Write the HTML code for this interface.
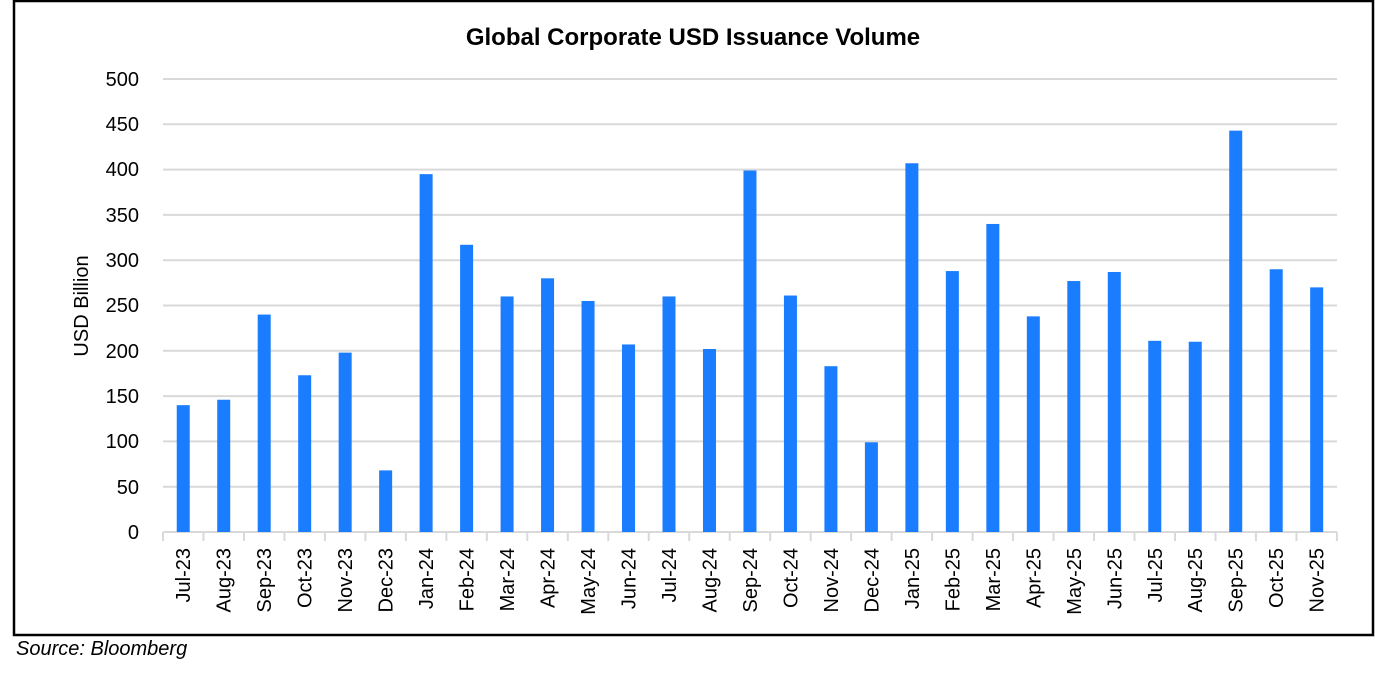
<!DOCTYPE html>
<html><head><meta charset="utf-8"><style>
html,body{margin:0;padding:0;background:#fff;}
svg{display:block;font-family:"Liberation Sans",sans-serif;}
</style></head><body>
<svg width="1375" height="676" viewBox="0 0 1375 676" xmlns="http://www.w3.org/2000/svg">
<rect x="14" y="1" width="1359" height="634" fill="#fff" stroke="#000" stroke-width="2.5"/>
<text x="693" y="45" text-anchor="middle" font-size="24" font-weight="bold">Global Corporate USD Issuance Volume</text>
<g stroke="#d9d9d9" stroke-width="2">
<line x1="163" y1="79" x2="1337" y2="79"/><line x1="163" y1="124.3" x2="1337" y2="124.3"/>
<line x1="163" y1="169.6" x2="1337" y2="169.6"/><line x1="163" y1="214.9" x2="1337" y2="214.9"/>
<line x1="163" y1="260.2" x2="1337" y2="260.2"/><line x1="163" y1="305.5" x2="1337" y2="305.5"/>
<line x1="163" y1="350.8" x2="1337" y2="350.8"/><line x1="163" y1="396.1" x2="1337" y2="396.1"/>
<line x1="163" y1="441.4" x2="1337" y2="441.4"/><line x1="163" y1="486.7" x2="1337" y2="486.7"/>
<line x1="163" y1="532" x2="1337" y2="532"/>
</g>
<g font-size="20" text-anchor="end" fill="#000">
<text x="139" y="86">500</text><text x="139" y="131">450</text><text x="139" y="176">400</text>
<text x="139" y="222">350</text><text x="139" y="267">300</text><text x="139" y="312">250</text>
<text x="139" y="358">200</text><text x="139" y="403">150</text><text x="139" y="448">100</text>
<text x="139" y="494">50</text><text x="139" y="539">0</text>
</g>
<text transform="translate(88,306) rotate(-90)" text-anchor="middle" font-size="20">USD Billion</text>
<g id="bars"></g>
<g id="ticks" stroke="#d9d9d9" stroke-width="2"></g>
<g id="labels" font-size="20"></g>
<text x="16" y="655" font-size="20" font-style="italic">Source: Bloomberg</text>
<script>
var v=[140,146,240,173,198,68,395,317,260,280,255,207,260,202,399,261,183,99,407,288,340,238,277,287,211,210,443,290,270];
var m=["Jul-23","Aug-23","Sep-23","Oct-23","Nov-23","Dec-23","Jan-24","Feb-24","Mar-24","Apr-24","May-24","Jun-24","Jul-24","Aug-24","Sep-24","Oct-24","Nov-24","Dec-24","Jan-25","Feb-25","Mar-25","Apr-25","May-25","Jun-25","Jul-25","Aug-25","Sep-25","Oct-25","Nov-25"];
var ns="http://www.w3.org/2000/svg",s=40.48,x0=163,k=0.906;
var b=document.getElementById("bars"),t=document.getElementById("ticks"),l=document.getElementById("labels");
for(var i=0;i<=29;i++){var ln=document.createElementNS(ns,"line");var x=x0+i*s;ln.setAttribute("x1",x);ln.setAttribute("x2",x);ln.setAttribute("y1",532);ln.setAttribute("y2",541);t.appendChild(ln);}
for(var i=0;i<29;i++){var c=x0+(i+0.5)*s;var r=document.createElementNS(ns,"rect");var h=v[i]*k;
r.setAttribute("x",c-6.5);r.setAttribute("width",13);r.setAttribute("y",532-h);r.setAttribute("height",h);r.setAttribute("fill","#1a7dff");b.appendChild(r);
var tx=document.createElementNS(ns,"text");tx.setAttribute("transform","translate("+(c+7)+",548) rotate(-90)");tx.setAttribute("text-anchor","end");tx.textContent=m[i];l.appendChild(tx);}
</script>
</svg>
</body></html>
